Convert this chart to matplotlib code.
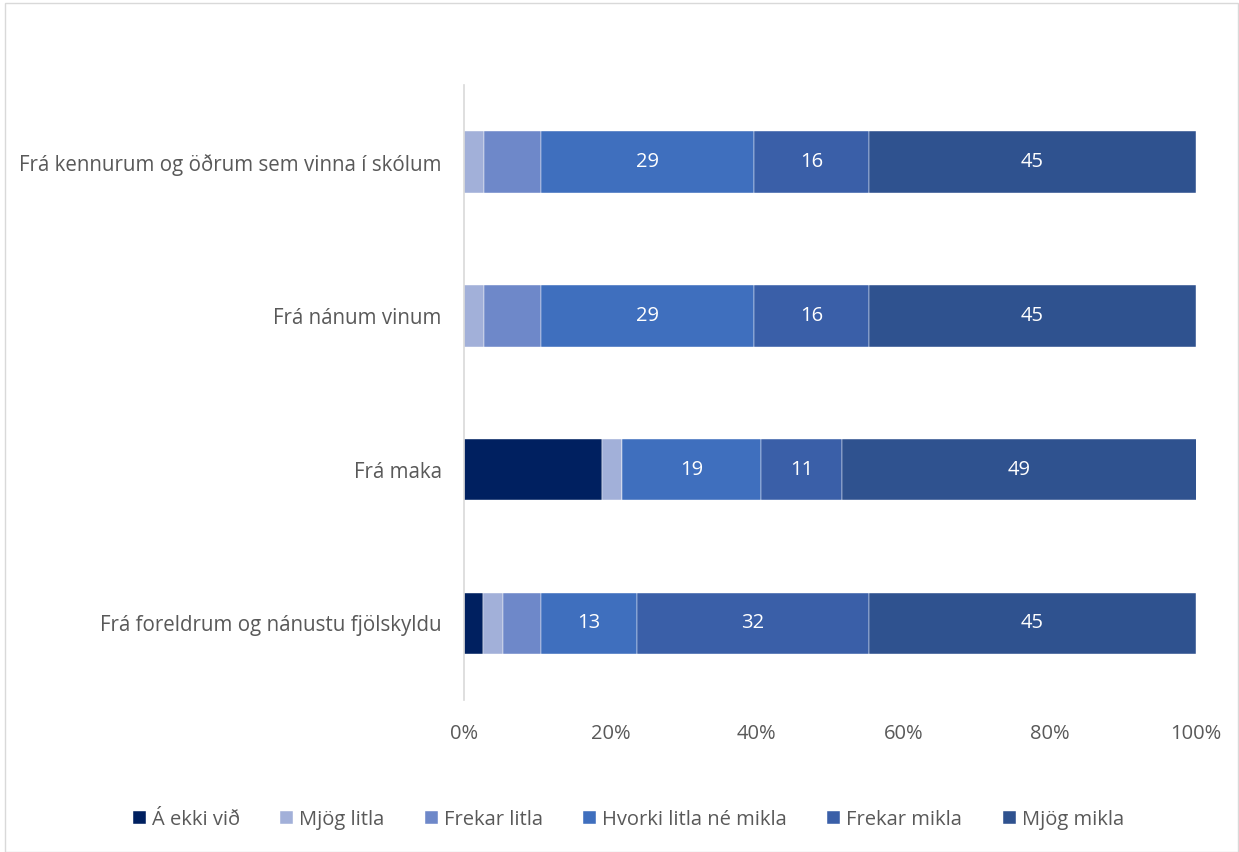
import matplotlib
matplotlib.use("Agg")
import matplotlib.pyplot as plt
from matplotlib.patches import Rectangle
import numpy as np

plt.rcParams['font.family'] = ['Open Sans', 'DejaVu Sans']

categories = ["Frá kennurum og öðrum sem vinna í skólum",
              "Frá nánum vinum",
              "Frá maka",
              "Frá foreldrum og nánustu fjölskyldu"]
series_names = ["Á ekki við", "Mjög litla", "Frekar litla",
                "Hvorki litla né mikla", "Frekar mikla", "Mjög mikla"]
a_ekki_vid = [0.0, 0.0, 18.9, 2.6]
mjog_litla = [2.7, 2.7, 2.7, 2.7]
frekar_litla = [7.8, 7.8, 0.0, 5.2]
hvorki = [29.1, 29.1, 19.0, 13.1]
frekar_mikla = [15.7, 15.7, 11.0, 31.7]
mjog_mikla = [44.7, 44.7, 48.6, 44.7]
xtick_labels = ["0%", "20%", "40%", "60%", "80%", "100%"]

colors = ["#002060", "#A2B0D9", "#6E88C9", "#3F6FBE", "#3A5FA8", "#2F528F"]
values = [a_ekki_vid, mjog_litla, frekar_litla, hvorki, frekar_mikla, mjog_mikla]
labelled = [False, False, False, True, True, True]

fig = plt.figure(figsize=(12.39, 8.52), dpi=100)
fig.patches.append(Rectangle((0.004, 0.0), 0.995, 0.996, transform=fig.transFigure,
                             fill=False, edgecolor="#D9D9D9", linewidth=1.0))
ax = fig.add_axes([0.3745, 0.178, 0.5908, 0.722])

y = np.arange(len(categories))
left = np.zeros(len(categories))
tc = "#595959"
for name, vals, col, lab in zip(series_names, values, colors, labelled):
    vals = np.array(vals)
    ax.barh(y, vals, left=left, height=0.40, color=col, label=name,
            edgecolor="white", linewidth=0.3)
    if lab:
        for yi, l, v in zip(y, left, vals):
            if v >= 5:
                ax.text(l + v / 2, yi, f"{round(v):d}", ha="center", va="center",
                        color="white", fontsize=14.5)
    left += vals

ax.set_ylim(len(categories) - 0.5, -0.5)
ax.set_xlim(0, 100)
ax.set_yticks(y)
ax.set_yticklabels(categories, fontsize=14.8, color=tc)
ax.set_xticks([0, 20, 40, 60, 80, 100])
ax.set_xticklabels(xtick_labels, fontsize=14.5, color=tc)
ax.tick_params(axis="both", length=0)
ax.tick_params(axis="x", pad=17)
ax.tick_params(axis="y", pad=16)
for s in ["top", "right", "bottom"]:
    ax.spines[s].set_visible(False)
ax.spines["left"].set_color("#D9D9D9")
ax.spines["left"].set_linewidth(1.2)

leg = fig.legend(loc="center", bbox_to_anchor=(0.507, 0.038), ncol=6, frameon=False,
                 fontsize=14.5, handlelength=0.65, handleheight=0.65, handletextpad=0.3,
                 columnspacing=2.0)
for t in leg.get_texts():
    t.set_color(tc)

fig.savefig("out.png", dpi=100)
